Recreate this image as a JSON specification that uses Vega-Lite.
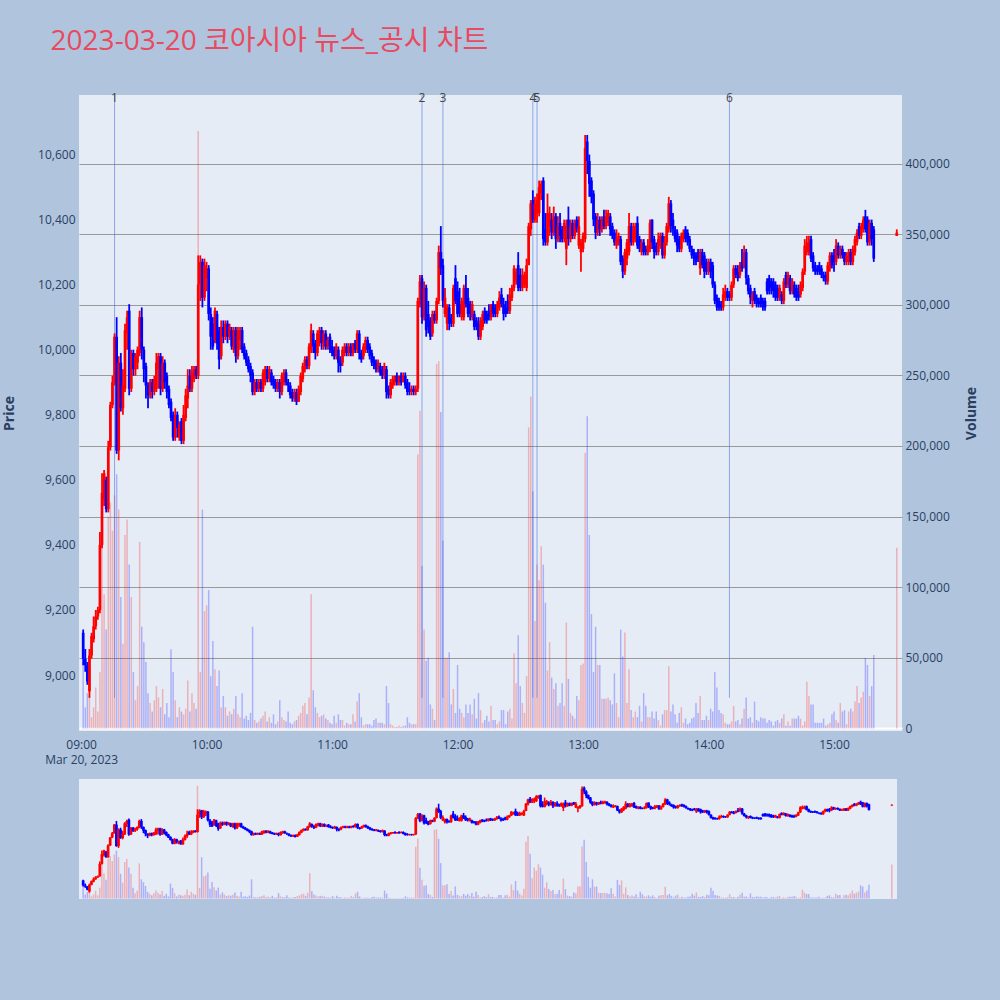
{
"$schema":"https://vega.github.io/schema/vega-lite/v6.json",
"background":"#B0C4DE",
"padding":{"left":2,"top":28,"right":21,"bottom":103.5},
"title":{"text":"2023-03-20 코아시아 뉴스_공시 차트","anchor":"start","fontSize":28,"color":"#E84A5F","font":"Open Sans, Noto Sans CJK KR","fontWeight":"normal","dx":48,"offset":35.5},
"config":{"view":{"fill":"#E5ECF6","stroke":null},"font":"Open Sans","axis":{"labelFont":"Open Sans","titleFont":"Open Sans","labelColor":"#2a3f5f","titleColor":"#2a3f5f","labelFontSize":12,"titleFontSize":14,"ticks":false,"domain":false}},
"data":{"format":{"parse":{"t":"date:'%H:%M'"}},"values":[
{"t":"09:01","o":9130,"h":9140,"l":9030,"c":9050,"v":47000},
{"t":"09:02","o":9050,"h":9080,"l":9010,"c":9030,"v":15000},
{"t":"09:03","o":9030,"h":9040,"l":8970,"c":8980,"v":25000},
{"t":"09:04","o":8950,"h":9080,"l":8930,"c":9060,"v":23000},
{"t":"09:05","o":9060,"h":9130,"l":9050,"c":9120,"v":8000},
{"t":"09:06","o":9110,"h":9180,"l":9100,"c":9150,"v":15000},
{"t":"09:07","o":9150,"h":9200,"l":9140,"c":9180,"v":29000},
{"t":"09:08","o":9180,"h":9210,"l":9170,"c":9200,"v":12000},
{"t":"09:09","o":9200,"h":9440,"l":9190,"c":9400,"v":40000},
{"t":"09:10","o":9400,"h":9620,"l":9390,"c":9560,"v":132000},
{"t":"09:11","o":9540,"h":9630,"l":9520,"c":9620,"v":95000},
{"t":"09:12","o":9600,"h":9610,"l":9500,"c":9510,"v":70000},
{"t":"09:13","o":9510,"h":9720,"l":9500,"c":9700,"v":150000},
{"t":"09:14","o":9700,"h":9840,"l":9690,"c":9830,"v":160000},
{"t":"09:15","o":9830,"h":9920,"l":9820,"c":9900,"v":140000},
{"t":"09:16","o":9900,"h":10050,"l":9890,"c":10040,"v":165000,"ev":"1"},
{"t":"09:17","o":10040,"h":10100,"l":9680,"c":9690,"v":180000},
{"t":"09:18","o":9690,"h":9980,"l":9660,"c":9960,"v":155000},
{"t":"09:19","o":9960,"h":9990,"l":9810,"c":9820,"v":93000},
{"t":"09:20","o":9820,"h":9940,"l":9800,"c":9890,"v":60000},
{"t":"09:21","o":9880,"h":10080,"l":9870,"c":10060,"v":137000},
{"t":"09:22","o":10050,"h":10120,"l":10000,"c":10100,"v":148000},
{"t":"09:23","o":10120,"h":10140,"l":9860,"c":9880,"v":116000},
{"t":"09:24","o":9880,"h":10000,"l":9870,"c":9990,"v":93000},
{"t":"09:25","o":9990,"h":10000,"l":9920,"c":9940,"v":40000},
{"t":"09:26","o":9940,"h":9990,"l":9920,"c":9980,"v":20000},
{"t":"09:27","o":9960,"h":10010,"l":9940,"c":10000,"v":30000},
{"t":"09:28","o":9990,"h":10120,"l":9980,"c":10100,"v":132000},
{"t":"09:29","o":10100,"h":10130,"l":9970,"c":10000,"v":72000},
{"t":"09:30","o":10000,"h":10010,"l":9900,"c":9940,"v":61000},
{"t":"09:31","o":9950,"h":9960,"l":9850,"c":9890,"v":47000},
{"t":"09:32","o":9890,"h":9900,"l":9820,"c":9860,"v":25000},
{"t":"09:33","o":9860,"h":9910,"l":9850,"c":9900,"v":18000},
{"t":"09:34","o":9900,"h":9910,"l":9850,"c":9870,"v":12000},
{"t":"09:35","o":9870,"h":9920,"l":9860,"c":9910,"v":20000},
{"t":"09:36","o":9880,"h":9990,"l":9870,"c":9960,"v":30000},
{"t":"09:37","o":9940,"h":9990,"l":9880,"c":9980,"v":22000},
{"t":"09:38","o":9980,"h":9990,"l":9860,"c":9880,"v":15000},
{"t":"09:39","o":9880,"h":9980,"l":9870,"c":9960,"v":28000},
{"t":"09:40","o":9960,"h":9970,"l":9880,"c":9900,"v":10000},
{"t":"09:41","o":9920,"h":9930,"l":9850,"c":9870,"v":18000},
{"t":"09:42","o":9880,"h":9890,"l":9820,"c":9830,"v":8000},
{"t":"09:43","o":9840,"h":9850,"l":9780,"c":9790,"v":56000},
{"t":"09:44","o":9800,"h":9810,"l":9720,"c":9730,"v":40000},
{"t":"09:45","o":9730,"h":9820,"l":9720,"c":9800,"v":20000},
{"t":"09:46","o":9800,"h":9810,"l":9730,"c":9760,"v":8000},
{"t":"09:47","o":9730,"h":9780,"l":9720,"c":9770,"v":15000},
{"t":"09:48","o":9780,"h":9790,"l":9710,"c":9720,"v":12000},
{"t":"09:49","o":9720,"h":9830,"l":9710,"c":9800,"v":10000},
{"t":"09:50","o":9790,"h":9880,"l":9780,"c":9860,"v":14000},
{"t":"09:51","o":9850,"h":9940,"l":9820,"c":9890,"v":34000},
{"t":"09:52","o":9920,"h":9940,"l":9870,"c":9880,"v":12000},
{"t":"09:53","o":9880,"h":9950,"l":9870,"c":9930,"v":25000},
{"t":"09:54","o":9910,"h":9950,"l":9900,"c":9940,"v":18000},
{"t":"09:55","o":9940,"h":9950,"l":9910,"c":9920,"v":14000},
{"t":"09:56","o":9920,"h":10290,"l":9910,"c":10200,"v":423000},
{"t":"09:57","o":10200,"h":10290,"l":10150,"c":10270,"v":40000},
{"t":"09:58","o":10270,"h":10280,"l":10130,"c":10160,"v":155000},
{"t":"09:59","o":10160,"h":10280,"l":10150,"c":10260,"v":83000},
{"t":"10:00","o":10220,"h":10270,"l":10180,"c":10250,"v":87000},
{"t":"10:01","o":10250,"h":10260,"l":10090,"c":10110,"v":98000},
{"t":"10:02","o":10110,"h":10130,"l":10000,"c":10040,"v":37000},
{"t":"10:03","o":10080,"h":10100,"l":10000,"c":10010,"v":62000},
{"t":"10:04","o":10030,"h":10130,"l":10020,"c":10120,"v":42000},
{"t":"10:05","o":10110,"h":10120,"l":10000,"c":10020,"v":30000},
{"t":"10:06","o":10060,"h":10070,"l":9940,"c":9970,"v":41000},
{"t":"10:07","o":9980,"h":10090,"l":9970,"c":10070,"v":15000},
{"t":"10:08","o":10070,"h":10090,"l":10020,"c":10040,"v":23000},
{"t":"10:09","o":10040,"h":10090,"l":10030,"c":10080,"v":15000},
{"t":"10:10","o":10080,"h":10090,"l":10020,"c":10040,"v":9000},
{"t":"10:11","o":10040,"h":10080,"l":10030,"c":10070,"v":12000},
{"t":"10:12","o":10060,"h":10070,"l":10000,"c":10010,"v":10000},
{"t":"10:13","o":10000,"h":10070,"l":9990,"c":10060,"v":14000},
{"t":"10:14","o":10060,"h":10070,"l":9960,"c":9980,"v":23000},
{"t":"10:15","o":9980,"h":10070,"l":9970,"c":10060,"v":10000},
{"t":"10:16","o":10030,"h":10070,"l":10000,"c":10060,"v":8000},
{"t":"10:17","o":10060,"h":10070,"l":9990,"c":10000,"v":25000},
{"t":"10:18","o":10010,"h":10020,"l":9970,"c":9980,"v":7000},
{"t":"10:19","o":9990,"h":10000,"l":9950,"c":9960,"v":9000},
{"t":"10:20","o":9970,"h":9980,"l":9930,"c":9940,"v":6000},
{"t":"10:21","o":9950,"h":9960,"l":9900,"c":9920,"v":11000},
{"t":"10:22","o":9930,"h":9940,"l":9860,"c":9870,"v":72000},
{"t":"10:23","o":9870,"h":9910,"l":9860,"c":9900,"v":6000},
{"t":"10:24","o":9900,"h":9910,"l":9870,"c":9880,"v":4000},
{"t":"10:25","o":9880,"h":9910,"l":9870,"c":9900,"v":5000},
{"t":"10:26","o":9900,"h":9910,"l":9870,"c":9880,"v":7000},
{"t":"10:27","o":9880,"h":9940,"l":9870,"c":9930,"v":9000},
{"t":"10:28","o":9900,"h":9950,"l":9890,"c":9940,"v":12000},
{"t":"10:29","o":9940,"h":9950,"l":9900,"c":9910,"v":5000},
{"t":"10:30","o":9910,"h":9950,"l":9900,"c":9940,"v":8000},
{"t":"10:31","o":9930,"h":9940,"l":9890,"c":9900,"v":4000},
{"t":"10:32","o":9910,"h":9920,"l":9880,"c":9890,"v":10000},
{"t":"10:33","o":9900,"h":9910,"l":9870,"c":9880,"v":3000},
{"t":"10:34","o":9880,"h":9910,"l":9870,"c":9900,"v":5000},
{"t":"10:35","o":9900,"h":9910,"l":9850,"c":9870,"v":20000},
{"t":"10:36","o":9870,"h":9930,"l":9860,"c":9920,"v":8000},
{"t":"10:37","o":9900,"h":9940,"l":9890,"c":9930,"v":6000},
{"t":"10:38","o":9930,"h":9940,"l":9890,"c":9900,"v":5000},
{"t":"10:39","o":9900,"h":9910,"l":9870,"c":9890,"v":12000},
{"t":"10:40","o":9890,"h":9900,"l":9850,"c":9860,"v":4000},
{"t":"10:41","o":9870,"h":9880,"l":9840,"c":9850,"v":3000},
{"t":"10:42","o":9850,"h":9880,"l":9840,"c":9870,"v":5000},
{"t":"10:43","o":9870,"h":9880,"l":9830,"c":9840,"v":6000},
{"t":"10:44","o":9840,"h":9890,"l":9840,"c":9880,"v":9000},
{"t":"10:45","o":9870,"h":9930,"l":9860,"c":9920,"v":11000},
{"t":"10:46","o":9910,"h":9960,"l":9900,"c":9950,"v":16000},
{"t":"10:47","o":9940,"h":9980,"l":9930,"c":9970,"v":18000},
{"t":"10:48","o":9970,"h":9980,"l":9940,"c":9950,"v":10000},
{"t":"10:49","o":9950,"h":10020,"l":9940,"c":10010,"v":22000},
{"t":"10:50","o":10000,"h":10080,"l":9990,"c":10060,"v":95000},
{"t":"10:51","o":10050,"h":10060,"l":9990,"c":10010,"v":27000},
{"t":"10:52","o":10020,"h":10030,"l":9970,"c":9990,"v":15000},
{"t":"10:53","o":9990,"h":10060,"l":9980,"c":10050,"v":11000},
{"t":"10:54","o":10020,"h":10070,"l":10010,"c":10060,"v":8000},
{"t":"10:55","o":10060,"h":10070,"l":10000,"c":10020,"v":9000},
{"t":"10:56","o":10010,"h":10060,"l":10000,"c":10050,"v":10000},
{"t":"10:57","o":10050,"h":10060,"l":10000,"c":10010,"v":7000},
{"t":"10:58","o":10010,"h":10040,"l":10000,"c":10030,"v":6000},
{"t":"10:59","o":10040,"h":10050,"l":9990,"c":10000,"v":4000},
{"t":"11:00","o":10010,"h":10030,"l":9980,"c":9990,"v":3000},
{"t":"11:01","o":10000,"h":10010,"l":9970,"c":9980,"v":9000},
{"t":"11:02","o":9980,"h":10020,"l":9970,"c":10010,"v":4000},
{"t":"11:03","o":10000,"h":10010,"l":9930,"c":9960,"v":10000},
{"t":"11:04","o":9970,"h":9980,"l":9930,"c":9950,"v":6000},
{"t":"11:05","o":9960,"h":10010,"l":9950,"c":10000,"v":6000},
{"t":"11:06","o":9990,"h":10020,"l":9980,"c":10010,"v":2000},
{"t":"11:07","o":10010,"h":10020,"l":9980,"c":9990,"v":4000},
{"t":"11:08","o":9990,"h":10020,"l":9980,"c":10010,"v":3000},
{"t":"11:09","o":10010,"h":10020,"l":9980,"c":9990,"v":3000},
{"t":"11:10","o":9990,"h":10020,"l":9980,"c":10020,"v":10000},
{"t":"11:11","o":10020,"h":10030,"l":9990,"c":10000,"v":5000},
{"t":"11:12","o":10000,"h":10060,"l":9990,"c":10050,"v":19000},
{"t":"11:13","o":10050,"h":10060,"l":9970,"c":9990,"v":25000},
{"t":"11:14","o":9990,"h":10000,"l":9960,"c":9970,"v":8000},
{"t":"11:15","o":9980,"h":10020,"l":9970,"c":10010,"v":2000},
{"t":"11:16","o":10000,"h":10040,"l":9990,"c":10030,"v":3000},
{"t":"11:17","o":10030,"h":10040,"l":9990,"c":10000,"v":3000},
{"t":"11:18","o":10010,"h":10020,"l":9970,"c":9980,"v":3000},
{"t":"11:19","o":9990,"h":10000,"l":9950,"c":9960,"v":2000},
{"t":"11:20","o":9970,"h":9980,"l":9940,"c":9950,"v":6000},
{"t":"11:21","o":9960,"h":9970,"l":9930,"c":9940,"v":7000},
{"t":"11:22","o":9940,"h":9970,"l":9930,"c":9960,"v":4000},
{"t":"11:23","o":9950,"h":9960,"l":9920,"c":9930,"v":4000},
{"t":"11:24","o":9940,"h":9950,"l":9910,"c":9920,"v":4000},
{"t":"11:25","o":9920,"h":9960,"l":9910,"c":9950,"v":3000},
{"t":"11:26","o":9940,"h":9950,"l":9850,"c":9870,"v":30000},
{"t":"11:27","o":9880,"h":9890,"l":9850,"c":9860,"v":18000},
{"t":"11:28","o":9860,"h":9910,"l":9850,"c":9900,"v":3000},
{"t":"11:29","o":9890,"h":9920,"l":9880,"c":9910,"v":2000},
{"t":"11:30","o":9900,"h":9920,"l":9890,"c":9920,"v":1000},
{"t":"11:31","o":9920,"h":9930,"l":9890,"c":9900,"v":1000},
{"t":"11:32","o":9900,"h":9920,"l":9890,"c":9920,"v":2000},
{"t":"11:33","o":9920,"h":9930,"l":9890,"c":9900,"v":1000},
{"t":"11:34","o":9900,"h":9930,"l":9900,"c":9920,"v":2000},
{"t":"11:35","o":9920,"h":9930,"l":9880,"c":9890,"v":2000},
{"t":"11:36","o":9900,"h":9910,"l":9860,"c":9870,"v":8000},
{"t":"11:37","o":9880,"h":9900,"l":9860,"c":9870,"v":4000},
{"t":"11:38","o":9870,"h":9890,"l":9860,"c":9880,"v":3000},
{"t":"11:39","o":9880,"h":9890,"l":9860,"c":9870,"v":3000},
{"t":"11:40","o":9870,"h":9890,"l":9860,"c":9880,"v":3000},
{"t":"11:41","o":9880,"h":10160,"l":9870,"c":10150,"v":194000},
{"t":"11:42","o":10140,"h":10230,"l":10130,"c":10210,"v":225000},
{"t":"11:43","o":10220,"h":10230,"l":10080,"c":10100,"v":115000,"ev":"2"},
{"t":"11:44","o":10100,"h":10210,"l":10090,"c":10190,"v":70000},
{"t":"11:45","o":10190,"h":10200,"l":10040,"c":10060,"v":48000},
{"t":"11:46","o":10110,"h":10150,"l":10050,"c":10070,"v":50000},
{"t":"11:47","o":10090,"h":10100,"l":10030,"c":10040,"v":17000},
{"t":"11:48","o":10050,"h":10120,"l":10040,"c":10110,"v":14000},
{"t":"11:49","o":10110,"h":10120,"l":10080,"c":10090,"v":6000},
{"t":"11:50","o":10090,"h":10160,"l":10080,"c":10150,"v":258000},
{"t":"11:51","o":10150,"h":10320,"l":10140,"c":10300,"v":260000},
{"t":"11:52","o":10300,"h":10380,"l":10230,"c":10250,"v":224000},
{"t":"11:53","o":10260,"h":10280,"l":10130,"c":10150,"v":133000,"ev":"3"},
{"t":"11:54","o":10110,"h":10190,"l":10100,"c":10160,"v":50000},
{"t":"11:55","o":10080,"h":10140,"l":10060,"c":10130,"v":50000},
{"t":"11:56","o":10130,"h":10140,"l":10060,"c":10080,"v":54000},
{"t":"11:57","o":10100,"h":10110,"l":10070,"c":10080,"v":17000},
{"t":"11:58","o":10080,"h":10200,"l":10070,"c":10190,"v":28000},
{"t":"11:59","o":10220,"h":10260,"l":10140,"c":10150,"v":11000},
{"t":"12:00","o":10180,"h":10210,"l":10100,"c":10110,"v":45000},
{"t":"12:01","o":10140,"h":10190,"l":10100,"c":10110,"v":14000},
{"t":"12:02","o":10100,"h":10160,"l":10090,"c":10150,"v":11000},
{"t":"12:03","o":10100,"h":10200,"l":10090,"c":10190,"v":8000},
{"t":"12:04","o":10190,"h":10230,"l":10130,"c":10140,"v":17000},
{"t":"12:05","o":10160,"h":10190,"l":10100,"c":10110,"v":11000},
{"t":"12:06","o":10140,"h":10150,"l":10090,"c":10110,"v":17000},
{"t":"12:07","o":10100,"h":10150,"l":10090,"c":10140,"v":10000},
{"t":"12:08","o":10110,"h":10120,"l":10060,"c":10070,"v":21000},
{"t":"12:09","o":10090,"h":10100,"l":10060,"c":10070,"v":7000},
{"t":"12:10","o":10080,"h":10100,"l":10030,"c":10040,"v":25000},
{"t":"12:11","o":10040,"h":10100,"l":10030,"c":10090,"v":13000},
{"t":"12:12","o":10070,"h":10120,"l":10060,"c":10110,"v":4000},
{"t":"12:13","o":10120,"h":10130,"l":10080,"c":10090,"v":6000},
{"t":"12:14","o":10110,"h":10120,"l":10080,"c":10090,"v":9000},
{"t":"12:15","o":10120,"h":10140,"l":10090,"c":10100,"v":5000},
{"t":"12:16","o":10100,"h":10140,"l":10090,"c":10140,"v":16000},
{"t":"12:17","o":10140,"h":10150,"l":10100,"c":10110,"v":6000},
{"t":"12:18","o":10130,"h":10140,"l":10100,"c":10110,"v":6000},
{"t":"12:19","o":10110,"h":10150,"l":10100,"c":10140,"v":3000},
{"t":"12:20","o":10130,"h":10180,"l":10120,"c":10160,"v":5000},
{"t":"12:21","o":10170,"h":10190,"l":10130,"c":10140,"v":13000},
{"t":"12:22","o":10140,"h":10160,"l":10090,"c":10110,"v":13000},
{"t":"12:23","o":10130,"h":10150,"l":10100,"c":10110,"v":3000},
{"t":"12:24","o":10150,"h":10170,"l":10110,"c":10120,"v":12000},
{"t":"12:25","o":10120,"h":10190,"l":10110,"c":10170,"v":14000},
{"t":"12:26","o":10160,"h":10200,"l":10150,"c":10190,"v":7000},
{"t":"12:27","o":10190,"h":10260,"l":10180,"c":10250,"v":53000},
{"t":"12:28","o":10210,"h":10250,"l":10200,"c":10240,"v":32000},
{"t":"12:29","o":10260,"h":10300,"l":10180,"c":10190,"v":66000},
{"t":"12:30","o":10230,"h":10250,"l":10180,"c":10190,"v":30000},
{"t":"12:31","o":10190,"h":10250,"l":10180,"c":10230,"v":18000},
{"t":"12:32","o":10200,"h":10240,"l":10190,"c":10230,"v":11000},
{"t":"12:33","o":10190,"h":10280,"l":10180,"c":10260,"v":37000},
{"t":"12:34","o":10260,"h":10390,"l":10260,"c":10380,"v":213000},
{"t":"12:35","o":10370,"h":10460,"l":10350,"c":10450,"v":235000},
{"t":"12:36","o":10460,"h":10490,"l":10390,"c":10400,"v":168000,"ev":"4"},
{"t":"12:37","o":10400,"h":10470,"l":10390,"c":10450,"v":76000},
{"t":"12:38","o":10420,"h":10480,"l":10390,"c":10460,"v":116000,"ev":"5"},
{"t":"12:39","o":10420,"h":10520,"l":10410,"c":10500,"v":105000},
{"t":"12:40","o":10480,"h":10520,"l":10460,"c":10510,"v":129000},
{"t":"12:41","o":10520,"h":10530,"l":10320,"c":10340,"v":116000},
{"t":"12:42","o":10370,"h":10420,"l":10320,"c":10330,"v":89000},
{"t":"12:43","o":10330,"h":10480,"l":10320,"c":10420,"v":41000},
{"t":"12:44","o":10380,"h":10440,"l":10350,"c":10420,"v":61000},
{"t":"12:45","o":10400,"h":10420,"l":10340,"c":10360,"v":36000},
{"t":"12:46","o":10360,"h":10440,"l":10350,"c":10410,"v":28000},
{"t":"12:47","o":10410,"h":10420,"l":10310,"c":10340,"v":32000},
{"t":"12:48","o":10340,"h":10410,"l":10330,"c":10380,"v":16000},
{"t":"12:49","o":10390,"h":10420,"l":10330,"c":10350,"v":18000},
{"t":"12:50","o":10370,"h":10380,"l":10330,"c":10340,"v":32000},
{"t":"12:51","o":10340,"h":10400,"l":10330,"c":10390,"v":16000},
{"t":"12:52","o":10310,"h":10400,"l":10260,"c":10380,"v":75000},
{"t":"12:53","o":10400,"h":10440,"l":10320,"c":10340,"v":35000},
{"t":"12:54","o":10340,"h":10400,"l":10330,"c":10380,"v":11000},
{"t":"12:55","o":10390,"h":10400,"l":10340,"c":10350,"v":9000},
{"t":"12:56","o":10350,"h":10400,"l":10340,"c":10390,"v":7000},
{"t":"12:57","o":10400,"h":10410,"l":10360,"c":10370,"v":23000},
{"t":"12:58","o":10320,"h":10410,"l":10310,"c":10380,"v":20000},
{"t":"12:59","o":10300,"h":10340,"l":10240,"c":10330,"v":45000},
{"t":"13:00","o":10310,"h":10360,"l":10300,"c":10350,"v":46000},
{"t":"13:01","o":10340,"h":10660,"l":10330,"c":10620,"v":195000},
{"t":"13:02","o":10640,"h":10660,"l":10540,"c":10580,"v":221000},
{"t":"13:03","o":10580,"h":10600,"l":10470,"c":10510,"v":137000},
{"t":"13:04","o":10520,"h":10530,"l":10450,"c":10470,"v":81000},
{"t":"13:05","o":10480,"h":10490,"l":10380,"c":10400,"v":40000},
{"t":"13:06","o":10410,"h":10420,"l":10340,"c":10360,"v":72000},
{"t":"13:07","o":10360,"h":10420,"l":10350,"c":10400,"v":45000},
{"t":"13:08","o":10400,"h":10410,"l":10350,"c":10370,"v":45000},
{"t":"13:09","o":10370,"h":10410,"l":10360,"c":10400,"v":21000},
{"t":"13:10","o":10410,"h":10430,"l":10370,"c":10380,"v":21000},
{"t":"13:11","o":10380,"h":10430,"l":10370,"c":10410,"v":21000},
{"t":"13:12","o":10390,"h":10430,"l":10380,"c":10420,"v":22000},
{"t":"13:13","o":10410,"h":10420,"l":10350,"c":10370,"v":20000},
{"t":"13:14","o":10380,"h":10390,"l":10340,"c":10350,"v":17000},
{"t":"13:15","o":10360,"h":10370,"l":10320,"c":10330,"v":39000},
{"t":"13:16","o":10320,"h":10370,"l":10310,"c":10340,"v":18000},
{"t":"13:17","o":10330,"h":10360,"l":10320,"c":10350,"v":8000},
{"t":"13:18","o":10340,"h":10350,"l":10260,"c":10270,"v":70000},
{"t":"13:19","o":10280,"h":10290,"l":10220,"c":10240,"v":51000},
{"t":"13:20","o":10240,"h":10310,"l":10230,"c":10300,"v":68000},
{"t":"13:21","o":10280,"h":10340,"l":10260,"c":10330,"v":18000},
{"t":"13:22","o":10300,"h":10420,"l":10290,"c":10380,"v":42000},
{"t":"13:23","o":10380,"h":10390,"l":10320,"c":10330,"v":13000},
{"t":"13:24","o":10330,"h":10390,"l":10320,"c":10370,"v":8000},
{"t":"13:25","o":10340,"h":10390,"l":10330,"c":10380,"v":12000},
{"t":"13:26","o":10390,"h":10410,"l":10310,"c":10320,"v":8000},
{"t":"13:27","o":10340,"h":10350,"l":10300,"c":10310,"v":16000},
{"t":"13:28","o":10300,"h":10340,"l":10290,"c":10330,"v":5000},
{"t":"13:29","o":10330,"h":10340,"l":10290,"c":10300,"v":25000},
{"t":"13:30","o":10310,"h":10320,"l":10290,"c":10300,"v":16000},
{"t":"13:31","o":10300,"h":10340,"l":10290,"c":10320,"v":8000},
{"t":"13:32","o":10310,"h":10400,"l":10300,"c":10390,"v":8000},
{"t":"13:33","o":10400,"h":10400,"l":10310,"c":10330,"v":12000},
{"t":"13:34","o":10340,"h":10350,"l":10280,"c":10300,"v":7000},
{"t":"13:35","o":10320,"h":10330,"l":10290,"c":10300,"v":12000},
{"t":"13:36","o":10300,"h":10360,"l":10290,"c":10340,"v":6000},
{"t":"13:37","o":10320,"h":10360,"l":10310,"c":10350,"v":2000},
{"t":"13:38","o":10350,"h":10360,"l":10280,"c":10290,"v":10000},
{"t":"13:39","o":10290,"h":10350,"l":10280,"c":10330,"v":13000},
{"t":"13:40","o":10330,"h":10390,"l":10320,"c":10380,"v":13000},
{"t":"13:41","o":10370,"h":10470,"l":10360,"c":10450,"v":44000},
{"t":"13:42","o":10450,"h":10460,"l":10360,"c":10380,"v":12000},
{"t":"13:43","o":10400,"h":10420,"l":10350,"c":10370,"v":17000},
{"t":"13:44","o":10370,"h":10380,"l":10330,"c":10340,"v":10000},
{"t":"13:45","o":10360,"h":10370,"l":10300,"c":10320,"v":4000},
{"t":"13:46","o":10340,"h":10350,"l":10300,"c":10310,"v":11000},
{"t":"13:47","o":10310,"h":10360,"l":10300,"c":10350,"v":15000},
{"t":"13:48","o":10340,"h":10370,"l":10330,"c":10360,"v":4000},
{"t":"13:49","o":10370,"h":10380,"l":10330,"c":10340,"v":7000},
{"t":"13:50","o":10360,"h":10370,"l":10320,"c":10330,"v":3000},
{"t":"13:51","o":10340,"h":10350,"l":10300,"c":10310,"v":4000},
{"t":"13:52","o":10310,"h":10320,"l":10280,"c":10290,"v":7000},
{"t":"13:53","o":10300,"h":10310,"l":10260,"c":10280,"v":8000},
{"t":"13:54","o":10290,"h":10300,"l":10260,"c":10270,"v":18000},
{"t":"13:55","o":10300,"h":10310,"l":10270,"c":10280,"v":11000},
{"t":"13:56","o":10250,"h":10310,"l":10230,"c":10300,"v":23000},
{"t":"13:57","o":10300,"h":10310,"l":10250,"c":10260,"v":6000},
{"t":"13:58","o":10290,"h":10300,"l":10220,"c":10240,"v":6000},
{"t":"13:59","o":10270,"h":10280,"l":10230,"c":10240,"v":9000},
{"t":"14:00","o":10240,"h":10280,"l":10230,"c":10270,"v":6000},
{"t":"14:01","o":10270,"h":10280,"l":10220,"c":10240,"v":14000},
{"t":"14:02","o":10260,"h":10270,"l":10190,"c":10200,"v":12000},
{"t":"14:03","o":10200,"h":10210,"l":10140,"c":10150,"v":40000},
{"t":"14:04","o":10160,"h":10170,"l":10120,"c":10130,"v":29000},
{"t":"14:05","o":10150,"h":10160,"l":10120,"c":10130,"v":13000},
{"t":"14:06","o":10140,"h":10150,"l":10120,"c":10130,"v":11000},
{"t":"14:07","o":10130,"h":10190,"l":10120,"c":10170,"v":10000},
{"t":"14:08","o":10160,"h":10200,"l":10150,"c":10180,"v":4000},
{"t":"14:09","o":10180,"h":10190,"l":10150,"c":10160,"v":3000},
{"t":"14:10","o":10170,"h":10180,"l":10150,"c":10160,"v":3000,"ev":"6"},
{"t":"14:11","o":10160,"h":10210,"l":10150,"c":10200,"v":5000},
{"t":"14:12","o":10200,"h":10260,"l":10190,"c":10250,"v":16000},
{"t":"14:13","o":10250,"h":10260,"l":10220,"c":10230,"v":5000},
{"t":"14:14","o":10240,"h":10260,"l":10210,"c":10220,"v":6000},
{"t":"14:15","o":10230,"h":10270,"l":10220,"c":10260,"v":3000},
{"t":"14:16","o":10270,"h":10310,"l":10240,"c":10250,"v":7000},
{"t":"14:17","o":10260,"h":10320,"l":10250,"c":10300,"v":14000},
{"t":"14:18","o":10300,"h":10310,"l":10200,"c":10220,"v":22000},
{"t":"14:19","o":10220,"h":10230,"l":10170,"c":10180,"v":7000},
{"t":"14:20","o":10190,"h":10200,"l":10140,"c":10160,"v":8000},
{"t":"14:21","o":10150,"h":10180,"l":10130,"c":10170,"v":4000},
{"t":"14:22","o":10180,"h":10190,"l":10140,"c":10150,"v":19000},
{"t":"14:23","o":10160,"h":10170,"l":10130,"c":10140,"v":6000},
{"t":"14:24","o":10150,"h":10160,"l":10130,"c":10140,"v":5000},
{"t":"14:25","o":10160,"h":10170,"l":10130,"c":10140,"v":8000},
{"t":"14:26","o":10150,"h":10160,"l":10120,"c":10130,"v":7000},
{"t":"14:27","o":10150,"h":10160,"l":10120,"c":10130,"v":7000},
{"t":"14:28","o":10210,"h":10220,"l":10170,"c":10180,"v":4000},
{"t":"14:29","o":10220,"h":10230,"l":10170,"c":10180,"v":6000},
{"t":"14:30","o":10210,"h":10220,"l":10170,"c":10190,"v":5000},
{"t":"14:31","o":10210,"h":10220,"l":10160,"c":10180,"v":2000},
{"t":"14:32","o":10200,"h":10210,"l":10150,"c":10160,"v":5000},
{"t":"14:33","o":10190,"h":10200,"l":10150,"c":10160,"v":6000},
{"t":"14:34","o":10160,"h":10200,"l":10150,"c":10190,"v":4000},
{"t":"14:35","o":10170,"h":10180,"l":10140,"c":10150,"v":7000},
{"t":"14:36","o":10150,"h":10220,"l":10140,"c":10210,"v":10000},
{"t":"14:37","o":10230,"h":10240,"l":10190,"c":10200,"v":2000},
{"t":"14:38","o":10200,"h":10240,"l":10190,"c":10230,"v":5000},
{"t":"14:39","o":10220,"h":10230,"l":10170,"c":10180,"v":2000},
{"t":"14:40","o":10180,"h":10220,"l":10170,"c":10210,"v":7000},
{"t":"14:41","o":10200,"h":10210,"l":10160,"c":10170,"v":7000},
{"t":"14:42","o":10190,"h":10200,"l":10150,"c":10160,"v":7000},
{"t":"14:43","o":10180,"h":10200,"l":10150,"c":10160,"v":9000},
{"t":"14:44","o":10170,"h":10210,"l":10160,"c":10200,"v":7000},
{"t":"14:45","o":10190,"h":10250,"l":10180,"c":10240,"v":2000},
{"t":"14:46","o":10240,"h":10340,"l":10230,"c":10320,"v":5000},
{"t":"14:47","o":10300,"h":10350,"l":10290,"c":10330,"v":33000},
{"t":"14:48","o":10300,"h":10350,"l":10290,"c":10330,"v":23000},
{"t":"14:49","o":10340,"h":10350,"l":10270,"c":10280,"v":17000},
{"t":"14:50","o":10290,"h":10300,"l":10240,"c":10250,"v":17000},
{"t":"14:51","o":10260,"h":10270,"l":10230,"c":10240,"v":4000},
{"t":"14:52","o":10250,"h":10260,"l":10230,"c":10240,"v":4000},
{"t":"14:53","o":10260,"h":10270,"l":10230,"c":10240,"v":4000},
{"t":"14:54","o":10250,"h":10260,"l":10220,"c":10230,"v":4000},
{"t":"14:55","o":10230,"h":10240,"l":10210,"c":10220,"v":7000},
{"t":"14:56","o":10230,"h":10240,"l":10200,"c":10210,"v":2000},
{"t":"14:57","o":10210,"h":10270,"l":10200,"c":10260,"v":3000},
{"t":"14:58","o":10250,"h":10300,"l":10240,"c":10290,"v":4000},
{"t":"14:59","o":10290,"h":10300,"l":10250,"c":10260,"v":10000},
{"t":"15:00","o":10290,"h":10310,"l":10240,"c":10270,"v":12000},
{"t":"15:01","o":10270,"h":10340,"l":10260,"c":10320,"v":6000},
{"t":"15:02","o":10320,"h":10330,"l":10280,"c":10290,"v":4000},
{"t":"15:03","o":10290,"h":10320,"l":10280,"c":10310,"v":18000},
{"t":"15:04","o":10310,"h":10320,"l":10280,"c":10290,"v":12000},
{"t":"15:05","o":10300,"h":10300,"l":10260,"c":10270,"v":13000},
{"t":"15:06","o":10270,"h":10300,"l":10260,"c":10290,"v":3000},
{"t":"15:07","o":10270,"h":10310,"l":10260,"c":10300,"v":12000},
{"t":"15:08","o":10300,"h":10310,"l":10260,"c":10270,"v":14000},
{"t":"15:09","o":10270,"h":10320,"l":10260,"c":10310,"v":12000},
{"t":"15:10","o":10300,"h":10350,"l":10290,"c":10340,"v":19000},
{"t":"15:11","o":10330,"h":10370,"l":10320,"c":10360,"v":30000},
{"t":"15:12","o":10380,"h":10390,"l":10340,"c":10350,"v":18000},
{"t":"15:13","o":10350,"h":10390,"l":10340,"c":10380,"v":22000},
{"t":"15:14","o":10370,"h":10410,"l":10360,"c":10400,"v":26000},
{"t":"15:15","o":10410,"h":10430,"l":10360,"c":10370,"v":50000},
{"t":"15:16","o":10400,"h":10410,"l":10320,"c":10330,"v":45000},
{"t":"15:17","o":10330,"h":10400,"l":10320,"c":10390,"v":23000},
{"t":"15:18","o":10390,"h":10400,"l":10320,"c":10340,"v":30000},
{"t":"15:19","o":10370,"h":10380,"l":10270,"c":10280,"v":52000},
{"t":"15:30","o":10350,"h":10370,"l":10350,"c":10360,"v":128000}
]},
"spacing":14,
"vconcat":[
{
"width":823,"height":636,
"layer":[
{"mark":{"type":"bar","width":1.5},
 "encoding":{
  "x":{"field":"t","type":"temporal","scale":{"padding":0,"domain":[{"year":1900,"month":1,"date":1,"hours":8,"minutes":59},{"year":1900,"month":1,"date":1,"hours":15,"minutes":32,"seconds":30}]},
   "axis":{"title":null,"grid":false,"labelFlush":false,"labelPadding":8,"labelLineHeight":15,"labelFontSize":12,
    "values":[{"year":1900,"month":1,"date":1,"hours":9},{"year":1900,"month":1,"date":1,"hours":10},{"year":1900,"month":1,"date":1,"hours":11},{"year":1900,"month":1,"date":1,"hours":12},{"year":1900,"month":1,"date":1,"hours":13},{"year":1900,"month":1,"date":1,"hours":14},{"year":1900,"month":1,"date":1,"hours":15}],
    "labelExpr":"timeFormat(datum.value, '%H:%M') == '09:00' ? ['09:00', 'Mar 20, 2023'] : timeFormat(datum.value, '%H:%M')"}},
  "y":{"field":"v","type":"quantitative","scale":{"padding":0,"domain":[-1800,448500],"nice":false,"zero":false},
   "axis":{"orient":"right","title":"Volume","titleAngle":270,"titlePadding":29,"labelExpr":"format(datum.value, ',')","labelPadding":3,
    "values":[0,50000,100000,150000,200000,250000,300000,350000,400000],
    "gridColor":{"condition":{"test":"datum.value === 0","value":"#ffffff"},"value":"#9a9a9a"},
    "gridWidth":{"condition":{"test":"datum.value === 0","value":2},"value":1}}},
  "color":{"condition":{"test":"datum.c >= datum.o","value":"#ff0000"},"value":"#0000ff"},
  "opacity":{"value":0.25}}},
{"layer":[
 {"transform":[{"filter":"isValid(datum.ev)"}],
  "mark":{"type":"rule","color":"#4169E1","opacity":0.55,"strokeWidth":1},
  "encoding":{"x":{"field":"t","type":"temporal"},"y":{"datum":8930},"y2":{"datum":10783}}},
 {"mark":{"type":"rule","strokeWidth":1.8},
  "encoding":{"x":{"field":"t","type":"temporal"},
   "y":{"field":"l","type":"quantitative","scale":{"padding":0,"domain":[8828,10783],"nice":false,"zero":false},
    "axis":{"orient":"left","title":"Price","labelExpr":"format(datum.value, ',')","labelPadding":4,"titlePadding":21,"gridColor":"#ffffff","gridWidth":1,
     "values":[9000,9200,9400,9600,9800,10000,10200,10400,10600]}},
   "y2":{"field":"h"},
   "color":{"condition":{"test":"datum.c >= datum.o","value":"#ff0000"},"value":"#0000ff"}}},
 {"mark":{"type":"bar","width":2.7},
  "encoding":{"x":{"field":"t","type":"temporal"},"y":{"field":"o","type":"quantitative"},"y2":{"field":"c"},
   "color":{"condition":{"test":"datum.c >= datum.o","value":"#ff0000"},"value":"#0000ff"}}},
 {"transform":[{"filter":"isValid(datum.ev)"}],
  "mark":{"type":"text","fontSize":12,"color":"#444444","baseline":"middle","font":"Open Sans"},
  "encoding":{"x":{"field":"t","type":"temporal"},"y":{"datum":10775},"text":{"field":"ev"}}}
]}
],
"resolve":{"scale":{"y":"independent"}}
},
{
"width":818,"height":120,
"layer":[
{"mark":{"type":"bar","width":1.5},
 "encoding":{
  "x":{"field":"t","type":"temporal","scale":{"padding":0,"domain":[{"year":1900,"month":1,"date":1,"hours":8,"minutes":59},{"year":1900,"month":1,"date":1,"hours":15,"minutes":32,"seconds":30}]},"axis":null},
  "y":{"field":"v","type":"quantitative","scale":{"padding":0,"domain":[-1800,448500],"nice":false,"zero":false},"axis":null},
  "color":{"condition":{"test":"datum.c >= datum.o","value":"#ff0000"},"value":"#0000ff"},
  "opacity":{"value":0.25}}},
{"layer":[
 {"mark":{"type":"rule","strokeWidth":1.6},
  "encoding":{"x":{"field":"t","type":"temporal"},
   "y":{"field":"l","type":"quantitative","scale":{"padding":0,"domain":[8828,10783],"nice":false,"zero":false},"axis":null},
   "y2":{"field":"h"},
   "color":{"condition":{"test":"datum.c >= datum.o","value":"#ff0000"},"value":"#0000ff"}}},
 {"mark":{"type":"bar","width":2.7},
  "encoding":{"x":{"field":"t","type":"temporal"},"y":{"field":"o","type":"quantitative"},"y2":{"field":"c"},
   "color":{"condition":{"test":"datum.c >= datum.o","value":"#ff0000"},"value":"#0000ff"}}}
]}
],
"resolve":{"scale":{"y":"independent"}}
}
]
}
